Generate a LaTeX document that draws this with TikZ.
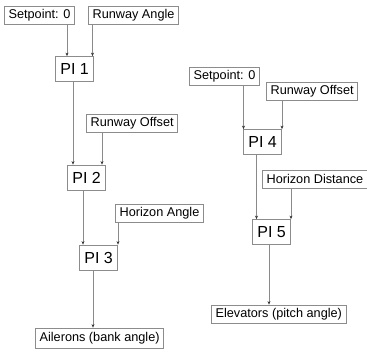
\documentclass[tikz,border=0pt]{standalone}
\usepackage{fontspec}
\setmainfont{Liberation Sans}
\usetikzlibrary{arrows.meta}
\definecolor{boxgray}{HTML}{8C8C8C}
\definecolor{linegray}{HTML}{8A8A8A}
\begin{document}
\begin{tikzpicture}[x=1pt,y=-1pt,
  lbl/.style={draw=boxgray,line width=0.8pt,anchor=west,inner xsep=4.2pt,inner ysep=0pt,minimum height=18pt,font=\fontsize{12.7}{14}\selectfont},
  pibox/.style={draw=boxgray,line width=0.8pt,anchor=west,inner xsep=5pt,inner ysep=0pt,minimum height=25pt,font=\fontsize{16}{18}\selectfont},
  arr/.style={draw=linegray,line width=0.8pt,-{Stealth[length=3.5pt,width=3pt,color=black!80]}}]
\useasboundingbox (0,0) rectangle (367,352);
% left chain
\node[lbl] (sp1) at (4,15.5) {Setpoint: 0};
\node[lbl] (ra) at (88,15.5) {Runway Angle};
\node[pibox] (pi1) at (55,69) {PI 1};
\node[lbl] (ro1) at (86,123.5) {Runway Offset};
\node[pibox] (pi2) at (67,177.5) {PI 2};
\node[lbl] (ha) at (115,213.5) {Horizon Angle};
\node[pibox] (pi3) at (79,257.5) {PI 3};
\node[lbl,minimum height=20pt] (ail) at (35,338) {Ailerons (bank angle)};
% right chain
\node[lbl] (sp2) at (189,76) {Setpoint: 0};
\node[lbl] (ro2) at (266,91) {Runway Offset};
\node[pibox] (pi4) at (243,142) {PI 4};
\node[lbl] (hd) at (262,179) {Horizon Distance};
\node[pibox] (pi5) at (252,232) {PI 5};
\node[lbl] (el) at (211,314) {Elevators (pitch angle)};
% x positions of connectors
\coordinate (xa) at (67,0);
\coordinate (xb) at (92.5,0);
\coordinate (xc) at (73,0);
\coordinate (xd) at (102,0);
\coordinate (xe) at (83,0);
\coordinate (xf) at (118,0);
\coordinate (xg) at (93,0);
\coordinate (xh) at (243.5,0);
\coordinate (xi) at (282,0);
\coordinate (xj) at (256.5,0);
\coordinate (xk) at (291,0);
\coordinate (xl) at (269,0);
% connectors
\draw[arr] (sp1.south -| xa) -- (pi1.north -| xa);
\draw[arr] (ra.south -| xb) -- (pi1.north -| xb);
\draw[arr] (pi1.south -| xc) -- (pi2.north -| xc);
\draw[arr] (ro1.south -| xd) -- (pi2.north -| xd);
\draw[arr] (pi2.south -| xe) -- (pi3.north -| xe);
\draw[arr] (ha.south -| xf) -- (pi3.north -| xf);
\draw[arr] (pi3.south -| xg) -- (ail.north -| xg);
\draw[arr] (sp2.south -| xh) -- (pi4.north -| xh);
\draw[arr] (ro2.south -| xi) -- (pi4.north -| xi);
\draw[arr] (pi4.south -| xj) -- (pi5.north -| xj);
\draw[arr] (hd.south -| xk) -- (pi5.north -| xk);
\draw[arr] (pi5.south -| xl) -- (el.north -| xl);
\end{tikzpicture}
\end{document}
